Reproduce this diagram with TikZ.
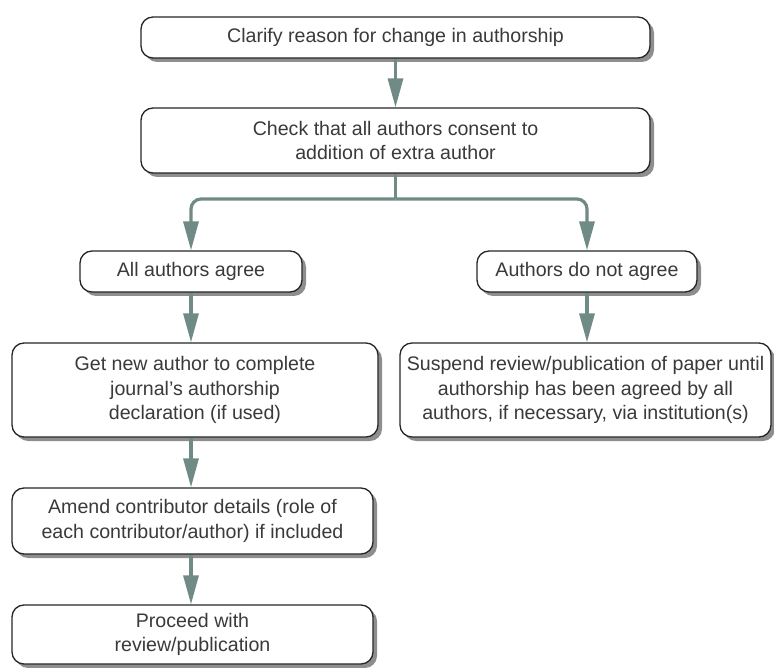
\documentclass[tikz,border=0pt]{standalone}
\usepackage{fontspec}
\setmainfont{Liberation Sans}
\usetikzlibrary{arrows.meta,shadows}
\definecolor{arrowc}{HTML}{708A86}
\definecolor{txtc}{HTML}{3A3A3A}
\definecolor{shadc}{HTML}{8E8E8E}
\begin{document}
\begin{tikzpicture}[x=1pt,y=-1pt,
  box/.style={draw=black!85, line width=1.3pt, rounded corners=12pt, fill=white,
    inner sep=0pt, align=center, text=txtc,
    font=\fontsize{19.6}{24.5}\selectfont,
    drop shadow={shadow xshift=4pt, shadow yshift=-4pt, fill=shadc, opacity=1}},
  flow/.style={draw=arrowc, line width=3.2pt, -{Triangle[length=29pt,width=15pt]}, rounded corners=10pt}
]
\useasboundingbox (0,0) rectangle (774,668);
\node[box, minimum width=509pt, minimum height=41pt] (A) at (395.5,37.5) {Clarify reason for change in authorship};
\node[box, minimum width=509pt, minimum height=65pt] (B) at (395.5,140.5) {Check that all authors consent to\\addition of extra author};
\node[box, minimum width=222pt, minimum height=41pt] (C) at (191,271.5) {All authors agree};
\node[box, minimum width=220pt, minimum height=41pt] (D) at (587,271.5) {Authors do not agree};
\node[box, minimum width=366pt, minimum height=94pt] (E) at (195,390) {Get new author to complete\\journal’s authorship\\declaration (if used)};
\node[box, minimum width=371pt, minimum height=94pt] (F) at (585.5,390) {Suspend review/publication of paper until\\authorship has been agreed by all\\authors, if necessary, via institution(s)};
\node[box, minimum width=361pt, minimum height=66pt] (G) at (192.5,521) {Amend contributor details (role of\\each contributor/author) if included};
\node[box, minimum width=361pt, minimum height=59pt] (H) at (192.5,634.5) {Proceed with\\review/publication};

\coordinate (split) at (395.5,199);
\draw[flow] (A.south) -- (B.north);
\draw[draw=arrowc, line width=3.2pt] (B.south) -- (split);
\draw[flow] (split) -| (C.north);
\draw[flow] (split) -| (D.north);
\draw[flow] (C.south) -- (C.south |- E.north);
\draw[flow] (D.south) -- (D.south |- F.north);
\draw[flow] (C.south |- E.south) -- (C.south |- G.north);
\draw[flow] (C.south |- G.south) -- (C.south |- H.north);
\end{tikzpicture}
\end{document}
